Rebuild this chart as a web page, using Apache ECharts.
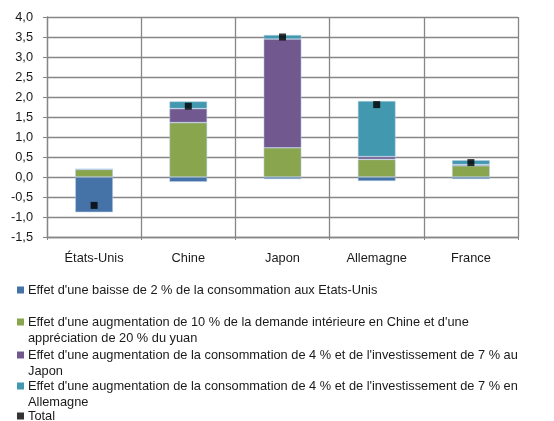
<!DOCTYPE html>
<html>
<head>
<meta charset="utf-8">
<script src="https://cdn.jsdelivr.net/npm/echarts@6/dist/echarts.min.js"></script>
<style>
  html, body { margin: 0; padding: 0; background: #fff; }
  #main { width: 554px; height: 421px; }
</style>
</head>
<body>
<div id="main"></div>
<script>
const countries = ['États-Unis', 'Chine', 'Japon', 'Allemagne', 'France'];

// effects (percentage points)
const usaEffect = [-0.88, -0.12, -0.05, -0.1, -0.05];
const chinaEffect = [0.19, 1.36, 0.73, 0.44, 0.28];
const japanEffect = [0.0, 0.35, 2.72, 0.07, 0.03];
const germanyEffect = [0.01, 0.18, 0.1, 1.39, 0.11];
const totals = [-0.71, 1.77, 3.5, 1.81, 0.36];

const yTicks = { min: -1.5, max: 4, interval: 0.5 };

const seriesNames = [
  "Effet d'une baisse de 2 % de la consommation aux Etats-Unis",
  "Effet d'une augmentation de 10 % de la demande intérieure en Chine et d'une\nappréciation de 20 % du yuan",
  "Effet d'une augmentation de la consommation de 4 % et de l'investissement de 7 % au\nJapon",
  "Effet d'une augmentation de la consommation de 4 % et de l'investissement de 7 % en\nAllemagne",
  'Total',
];
const colors = ['#4572A7', '#89A54E', '#71588F', '#4198AF', '#000000'];
// y of each legend marker
const legendY = [290, 322, 355, 386, 416];

const myChart = echarts.init(document.getElementById('main'));

const font = 'Liberation Sans';
const fontSize = 12.8;

const barSeries = [usaEffect, chinaEffect, japanEffect, germanyEffect].map((d, i) => ({
  name: seriesNames[i],
  type: 'bar',
  stack: 'effets',
  barWidth: '40%',
  data: d,
  itemStyle: {
    color: colors[i],
    borderColor: 'rgba(185,205,229,0.9)',
    borderWidth: 0.6,
  },
}));

// one legend per entry so that each can sit at its own height
const legends = seriesNames.map((name, i) => {
  const lines = name.split('\n');
  return {
    left: 17,
    top: legendY[i] - (lines.length > 1 ? 24 : 8),
    padding: 0,
    orient: 'vertical',
    itemWidth: 7,
    itemHeight: 7,
    itemGap: 0,
    icon: 'rect',
    data: [name],
    selectedMode: false,
    itemStyle: { borderWidth: 0 },
    formatter: () => (lines.length > 1 ? '\n' + lines.join('\n') : lines[0]),
    textStyle: {
      fontFamily: font,
      fontSize: fontSize,
      color: '#1a1a1a',
      lineHeight: 16,
      padding: [0, 0, 0, -1],
    },
  };
});

const option = {
  animation: false,
  color: colors,
  grid: {
    left: 47,
    right: 36,
    top: 17,
    bottom: 184,
  },
  legend: legends,
  xAxis: {
    type: 'category',
    data: countries,
    boundaryGap: true,
    axisLine: { onZero: false, lineStyle: { color: '#868686', width: 1.3 } },
    axisTick: { show: true, length: 3, lineStyle: { color: '#868686' } },
    axisLabel: { fontFamily: font, fontSize: fontSize, color: '#1a1a1a', margin: 15 },
    splitLine: { show: true, lineStyle: { color: '#868686', width: 1.3 } },
  },
  yAxis: {
    type: 'value',
    min: yTicks.min,
    max: yTicks.max,
    interval: yTicks.interval,
    axisLine: { show: true, lineStyle: { color: '#868686', width: 1.3 } },
    axisTick: { show: true, length: 4, lineStyle: { color: '#868686' } },
    axisLabel: {
      fontFamily: font,
      fontSize: fontSize,
      color: '#1a1a1a',
      margin: 14,
      formatter: (v) => v.toFixed(1).replace('.', ','),
    },
    splitLine: { lineStyle: { color: '#868686', width: 1.3 } },
  },
  series: [
    ...barSeries,
    {
      name: 'Total',
      type: 'scatter',
      symbol: 'rect',
      symbolSize: 7,
      data: totals,
      itemStyle: { color: '#000' },
      z: 5,
    },
  ],
};

myChart.setOption(option);
</script>
</body>
</html>
